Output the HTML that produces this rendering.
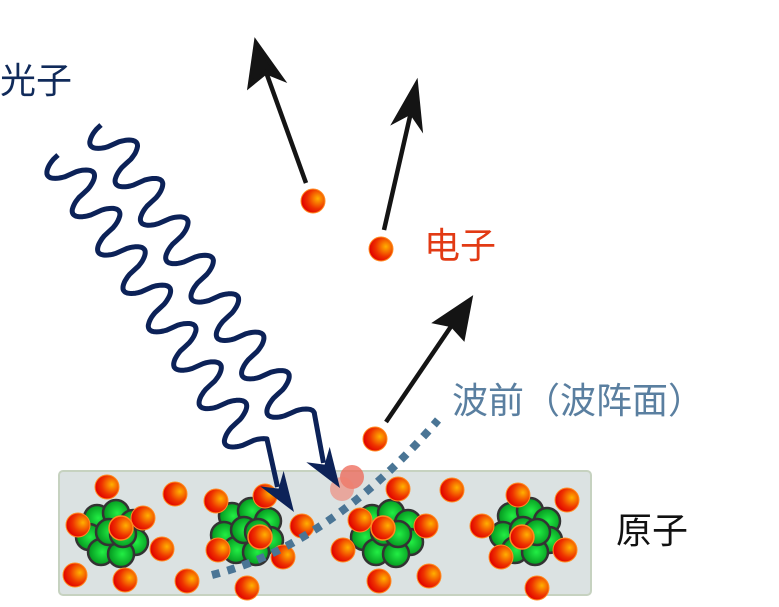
<!DOCTYPE html>
<html><head><meta charset="utf-8"><style>
body{margin:0;background:#fff;width:779px;height:607px;overflow:hidden}
svg{position:absolute;left:0;top:0}
.t{font-family:"Liberation Sans","Noto Sans CJK SC",sans-serif;font-size:36px}
</style></head><body>
<svg id="s" width="779" height="607" viewBox="0 0 779 607">
<defs>
<radialGradient id="e" cx="0.7" cy="0.4" r="0.7"><stop offset="0" stop-color="#ffb000"/><stop offset="0.6" stop-color="#ee3300"/><stop offset="1" stop-color="#e00000"/></radialGradient>
<radialGradient id="g" cx="0.55" cy="0.5" r="0.6"><stop offset="0" stop-color="#22ee44"/><stop offset="1" stop-color="#008a1a"/></radialGradient>
</defs>
<rect x="59" y="471" width="532" height="124" rx="4" fill="#dbe2e2" stroke="#c6d2c0" stroke-width="2"/>
<g id="nuc"></g>
<g id="el"></g>
<path d="M212,575 Q330,545 438,420" fill="none" stroke="#4a7595" stroke-width="8" stroke-dasharray="8,8"/>
<circle cx="352" cy="477" r="12" fill="#ee6655" opacity="0.75"/>
<circle cx="342" cy="489" r="12" fill="#f08070" opacity="0.6"/>
<g id="w"></g>
<g stroke="#141414" stroke-width="4.5" fill="#141414">
<line x1="306" y1="183" x2="266" y2="72"/><polygon points="256,43 281,78 266,72 250,85"/>
<line x1="384" y1="230" x2="411" y2="112"/><polygon points="416,85 420,125 411,112 396,120"/>
<line x1="386" y1="422" x2="452" y2="325"/><polygon points="470,300 463,337 452,325 437,322" />
</g>
<text class="t" x="0" y="93" fill="#102a5a">光子</text>
<text class="t" x="424" y="258" fill="#e23a14">电子</text>
<text class="t" x="452" y="413" fill="#5a7fa0">波前（波阵面）</text>
<text class="t" x="616" y="543" fill="#111">原子</text>
</svg>
<script>
var NS="http://www.w3.org/2000/svg";
function el(p,tag,a){var e=document.createElementNS(NS,tag);for(var k in a)e.setAttribute(k,a[k]);document.getElementById(p).appendChild(e);return e;}
var E=[[107,487],[175,494],[216,501],[265,496],[78,525],[143,518],[162,549],[75,575],[125,580],[187,581],[218,550],[302,526],[283,557],[247,588],[343,550],[360,520],[398,489],[426,526],[379,581],[429,576],[452,490],[482,526],[518,495],[567,500],[501,557],[565,550],[537,588],[313,201],[381,249],[375,439]];
var N=[[113,532],[248,530],[388,532],[527,530]];
N.forEach(function(c){var pts=[[-16,-14],[3,-19],[20,-9],[-24,5],[22,10],[-12,20],[8,22],[-4,0],[10,2]];
pts.forEach(function(p){el("nuc","circle",{cx:c[0]+p[0],cy:c[1]+p[1],r:13,fill:"url(#g)",stroke:"#333",'stroke-width':2.5});});});
E.forEach(function(c){el("el","circle",{cx:c[0],cy:c[1],r:12,fill:"url(#e)",stroke:"#ff8a20",'stroke-width':1});});
[[121,528],[260,537],[383,528],[522,537]].forEach(function(c){el("el","circle",{cx:c[0],cy:c[1],r:12,fill:"url(#e)",stroke:"#ff8a20",'stroke-width':1.5});});
function wave(sx,sy,ex,ey){var dx=ex-sx,dy=ey-sy,L=Math.hypot(dx,dy),ux=dx/L,uy=dy/L,px=-uy,py=ux;
var wl=L-75,d="M"+sx+","+sy;for(var t=0;t<=wl;t+=1){var s=Math.sin(2*Math.PI*t/46);var a=20*Math.sign(s)*Math.pow(Math.abs(s),0.6);d+=" L"+(sx+ux*t+px*a).toFixed(1)+","+(sy+uy*t+py*a).toFixed(1);}
var bx=ex-ux*30,by=ey-uy*30;d+=" L"+bx.toFixed(1)+","+by.toFixed(1);
el("w","path",{d:d,fill:"none",stroke:"#0c2258",'stroke-width':5,'stroke-linejoin':"round"});
var hx=ex-ux*40,hy=ey-uy*40;
el("w","polygon",{points:ex+","+ey+" "+(hx+px*14)+","+(hy+py*14)+" "+(ex-ux*28)+","+(ey-uy*28)+" "+(hx-px*14)+","+(hy-py*14),fill:"#0c2258"});}
wave(58,155,294,512);wave(101,125,340,488);
</script>
</body></html>
